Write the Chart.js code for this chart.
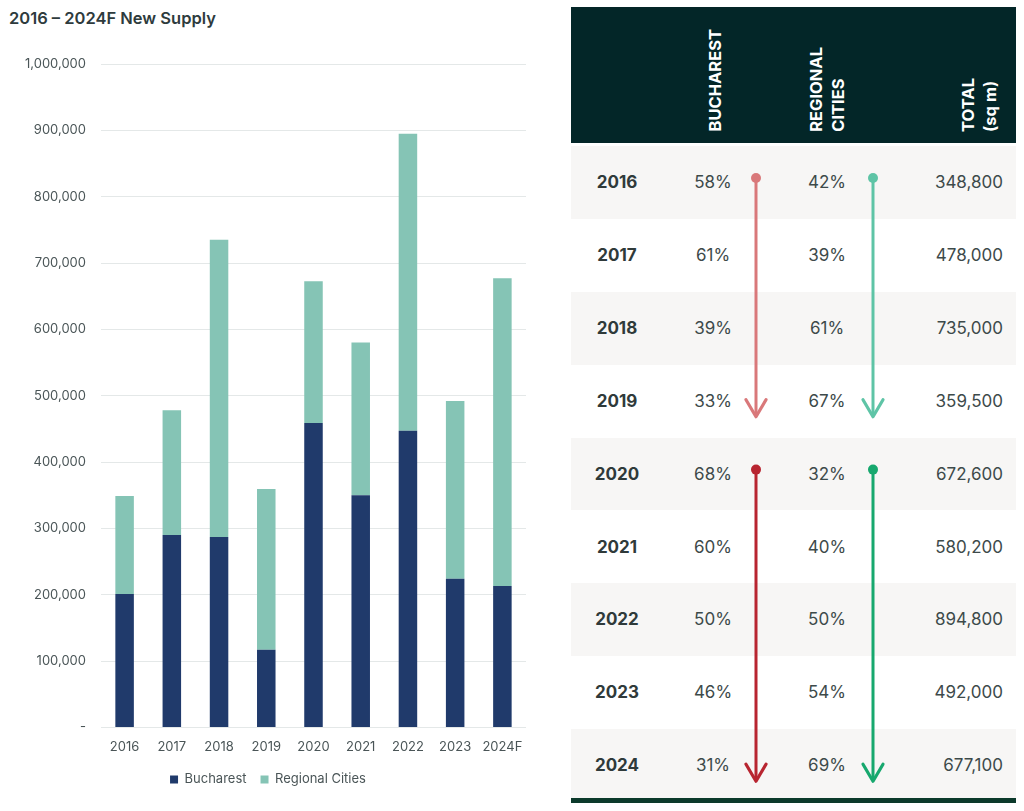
<!DOCTYPE html>
<html>
<head>
<meta charset="utf-8">
<script src="https://cdn.jsdelivr.net/npm/chart.js@4.4.0/dist/chart.umd.min.js"></script>
<style>
  html, body { margin: 0; padding: 0; background: #ffffff; }
  body { width: 1024px; height: 811px; position: relative; overflow: hidden; font-family: Inter, "Open Sans", sans-serif; }
  #title { position: absolute; left: 9px; top: 8px; font-size: 16.5px; font-weight: 600; color: #2e3b3d; }
  #chartWrap { position: absolute; left: 0; top: 30px; width: 540px; height: 781px; }
  #table { position: absolute; left: 571px; top: 7px; width: 445px; height: 796px; }
  #head { position: absolute; left: 0; top: 0; width: 445px; height: 136px; background: #032628; }
  .hl { position: absolute; bottom: 11px; writing-mode: vertical-rl; transform: rotate(180deg); color: #ffffff; font-weight: 700; font-size: 16.5px; line-height: 22px; white-space: pre; }
  .row { position: absolute; left: 0; width: 445px; height: 73px; }
  .row.shade { background: #f7f6f5; }
  .cell { position: absolute; top: 0; height: 73px; line-height: 73px; font-size: 17px; color: #3d4a4a; }
  .yr { font-weight: 700; color: #2f3a3a; }
  #bottomRule { position: absolute; left: 0; top: 791px; width: 445px; height: 5px; background: #0c3a2b; }
  svg { position: absolute; left: 0; top: 0; }
</style>
</head>
<body>
<div id="title">2016 – 2024F New Supply</div>
<div id="chartWrap"><canvas id="c"></canvas></div>
<div id="table">
  <div id="head"></div>
  <div id="rows"></div>
  <div id="bottomRule"></div>
</div>
<script>
// ---- Chart data ----
const categories = ['2016','2017','2018','2019','2020','2021','2022','2023','2024F'];
const bucharest = [201000, 290000, 287000, 117000, 459000, 350000, 447000, 224000, 213000];
const regional  = [147800, 188000, 448000, 242500, 213600, 230200, 447800, 268000, 464100];
const seriesNames = ['Bucharest', 'Regional Cities'];
const yTicks = [0, 100000, 200000, 300000, 400000, 500000, 600000, 700000, 800000, 900000, 1000000];

// ---- Table data ----
const tableYears = ['2016','2017','2018','2019','2020','2021','2022','2023','2024'];
const tableBucharestPct = ['58%','61%','39%','33%','68%','60%','50%','46%','31%'];
const tableRegionalPct  = ['42%','39%','61%','67%','32%','40%','50%','54%','69%'];
const tableTotals = ['348,800','478,000','735,000','359,500','672,600','580,200','894,800','492,000','677,100'];
const headerLabels = ['BUCHAREST', 'REGIONAL\nCITIES', 'TOTAL\n(sq m)'];

const fmt = v => v === 0 ? '-' : v.toLocaleString('en-US');
const tickFont = { family: 'Inter', size: 13 };

new Chart(document.getElementById('c'), {
  type: 'bar',
  data: {
    labels: categories,
    datasets: [
      { label: seriesNames[0], data: bucharest, backgroundColor: '#203a6b', categoryPercentage: 0.8, barPercentage: 0.49 },
      { label: seriesNames[1], data: regional, backgroundColor: '#85c4b5', categoryPercentage: 0.8, barPercentage: 0.49 }
    ]
  },
  options: {
    responsive: true,
    maintainAspectRatio: false,
    animation: false,
    layout: { padding: { left: 10, right: 14, top: 34, bottom: 15 } },
    plugins: {
      legend: {
        position: 'bottom',
        labels: { boxWidth: 8, boxHeight: 8, padding: 14, color: '#4a5557', font: tickFont }
      },
      tooltip: { enabled: false }
    },
    scales: {
      x: {
        stacked: true,
        grid: { display: false },
        border: { display: false },
        ticks: { color: '#4a5557', font: tickFont, padding: 4 }
      },
      y: {
        stacked: true,
        min: 0, max: 1000000,
        afterBuildTicks: axis => { axis.ticks = yTicks.map(v => ({ value: v })); },
        grid: { color: '#e4e8e8', drawTicks: false, lineWidth: 1 },
        border: { display: false },
        ticks: { color: '#4a5557', font: tickFont, padding: 15, callback: v => fmt(v) }
      }
    }
  }
});

// ---- Table ----
const head = document.getElementById('head');
const headerX = [144, 256, 408];
headerLabels.forEach((t, i) => {
  const d = document.createElement('div');
  d.className = 'hl';
  d.textContent = t;
  const lines = t.split('\n').length;
  const w = lines * 22;
  d.style.left = (headerX[i] - w / 2) + 'px';
  d.style.width = w + 'px';
  head.appendChild(d);
});

const rows = document.getElementById('rows');
const rowTop = 139, rowH = 72.9;
tableYears.forEach((y, i) => {
  const r = document.createElement('div');
  r.className = 'row' + (i % 2 === 0 ? ' shade' : '');
  r.style.top = (rowTop + i * rowH) + 'px';
  r.style.height = rowH + 'px';
  const cells = [
    { t: y, cls: 'yr', center: 46 },
    { t: tableBucharestPct[i], center: 142 },
    { t: tableRegionalPct[i], center: 256 },
    { t: tableTotals[i], right: 13 }
  ];
  cells.forEach(c => {
    const d = document.createElement('div');
    d.className = 'cell ' + (c.cls || '');
    d.textContent = c.t;
    if (c.right !== undefined) { d.style.right = c.right + 'px'; }
    else { d.style.left = (c.center - 40) + 'px'; d.style.width = '80px'; d.style.textAlign = 'center'; }
    r.appendChild(d);
  });
  rows.appendChild(r);
});

// Arrows (trend indicators) spanning row groups
const arrows = [
  { x: 185, fromRow: 0, toRow: 3, color: '#d9787a' },
  { x: 302, fromRow: 0, toRow: 3, color: '#5ec4a6' },
  { x: 185, fromRow: 4, toRow: 8, color: '#b82530' },
  { x: 302, fromRow: 4, toRow: 8, color: '#17a86e' }
];
const ns = 'http://www.w3.org/2000/svg';
const svg = document.createElementNS(ns, 'svg');
svg.setAttribute('width', 445); svg.setAttribute('height', 796);
arrows.forEach(a => {
  const y1 = rowTop + a.fromRow * rowH + 32;
  const y2 = rowTop + a.toRow * rowH + 52;
  const line = document.createElementNS(ns, 'line');
  line.setAttribute('x1', a.x); line.setAttribute('x2', a.x);
  line.setAttribute('y1', y1); line.setAttribute('y2', y2 - 2);
  line.setAttribute('stroke', a.color); line.setAttribute('stroke-width', 3);
  svg.appendChild(line);
  const dot = document.createElementNS(ns, 'circle');
  dot.setAttribute('cx', a.x); dot.setAttribute('cy', y1); dot.setAttribute('r', 5);
  dot.setAttribute('fill', a.color);
  svg.appendChild(dot);
  const head = document.createElementNS(ns, 'polyline');
  head.setAttribute('points', `${a.x - 10},${y2 - 17} ${a.x},${y2} ${a.x + 10},${y2 - 17}`);
  head.setAttribute('fill', 'none'); head.setAttribute('stroke', a.color);
  head.setAttribute('stroke-width', 3.2); head.setAttribute('stroke-linecap', 'round'); head.setAttribute('stroke-linejoin', 'round');
  svg.appendChild(head);
});
document.getElementById('table').appendChild(svg);
</script>
</body>
</html>
